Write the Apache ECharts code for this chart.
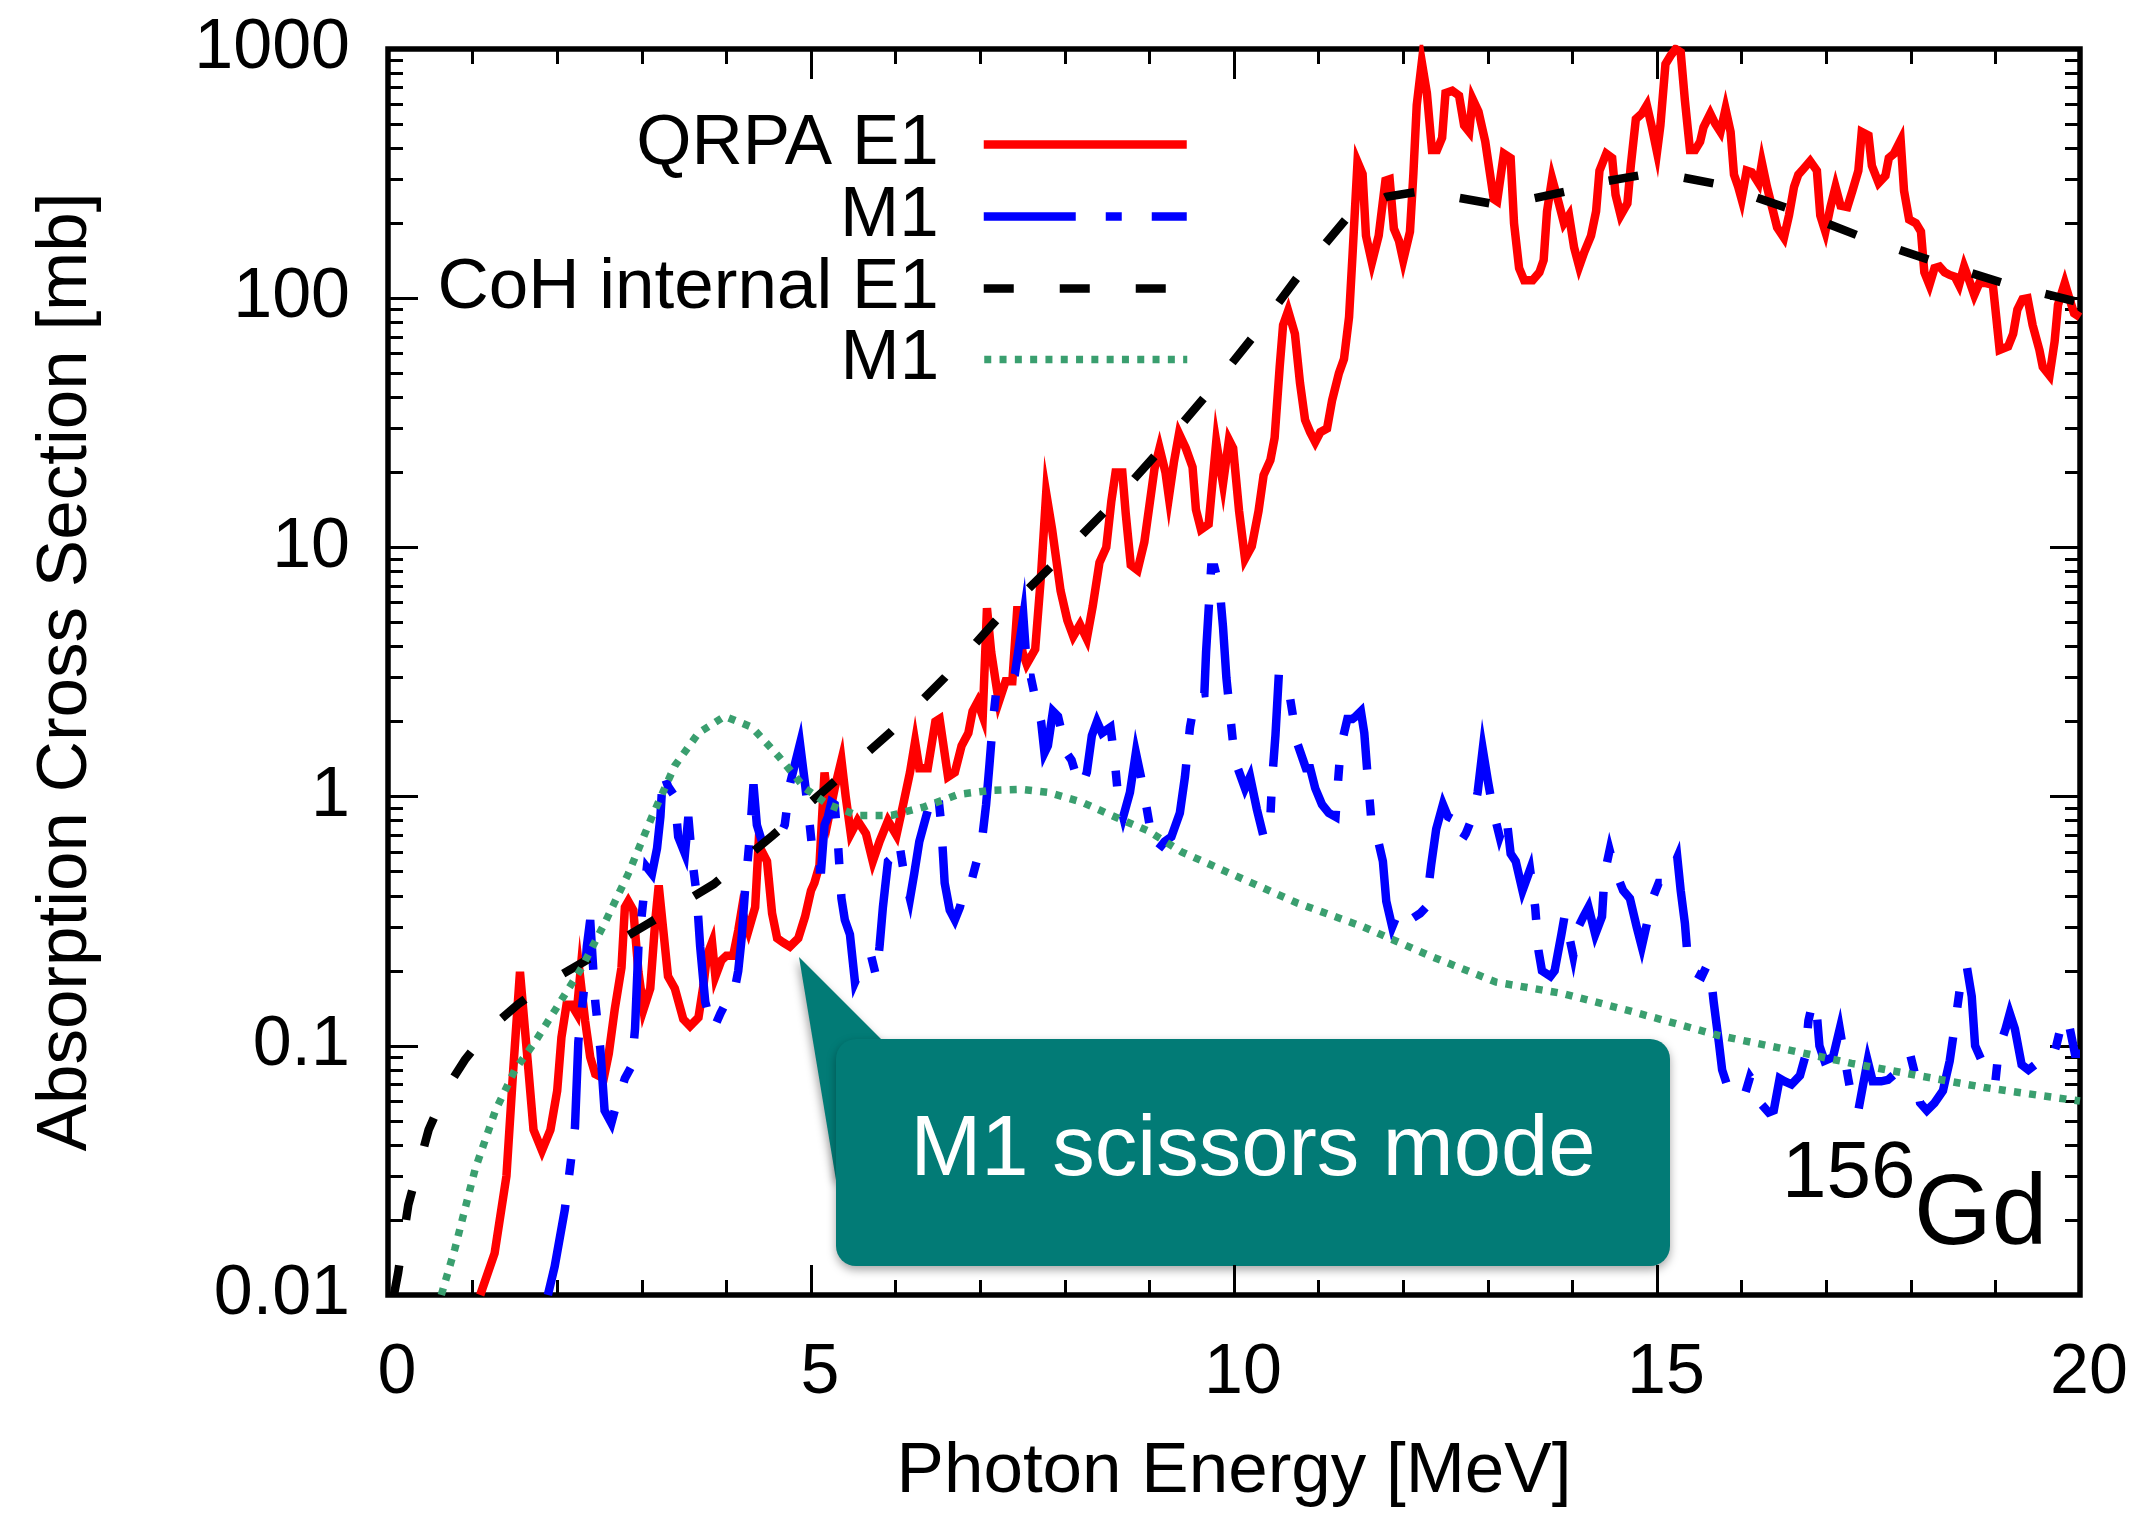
<!DOCTYPE html>
<html>
<head>
<meta charset="utf-8">
<script src="https://cdn.jsdelivr.net/npm/echarts@6.0.0/dist/echarts.min.js"></script>
<style>
html,body{margin:0;padding:0;background:#ffffff;}
#chart{width:2137px;height:1513px;}
</style>
</head>
<body>
<div id="chart"></div>
<script>
// ---------------- data (photon energy [MeV], cross section [mb]) ----------------
const qrpaE1 = [
[1.09,0.01],[1.26,0.0147],[1.40,0.03],[1.48,0.08],[1.56,0.198],[1.66,0.08],[1.72,0.046],[1.82,0.038],[1.92,0.046],[2.0,0.066],
[2.05,0.108],[2.11,0.146],[2.17,0.146],[2.23,0.135],[2.27,0.19],[2.33,0.126],[2.39,0.09],[2.45,0.077],[2.55,0.074],[2.61,0.093],
[2.68,0.14],[2.76,0.206],[2.80,0.36],[2.84,0.38],[2.90,0.35],[2.96,0.198],[3.02,0.14],[3.10,0.17],[3.16,0.32],[3.20,0.44],
[3.25,0.30],[3.31,0.19],[3.39,0.17],[3.49,0.128],[3.57,0.12],[3.67,0.13],[3.73,0.176],[3.77,0.23],[3.83,0.26],[3.87,0.19],
[3.94,0.22],[4.0,0.23],[4.08,0.23],[4.14,0.29],[4.18,0.35],[4.26,0.29],[4.34,0.36],[4.38,0.64],[4.48,0.55],[4.54,0.34],
[4.60,0.27],[4.67,0.26],[4.75,0.25],[4.85,0.27],[4.93,0.33],[5.0,0.42],[5.04,0.45],[5.10,0.53],[5.16,1.25],[5.22,0.86],
[5.28,1.08],[5.36,1.4],[5.41,1.0],[5.47,0.71],[5.55,0.8],[5.65,0.71],[5.73,0.55],[5.81,0.66],[5.91,0.8],[6.01,0.7],
[6.09,0.93],[6.17,1.25],[6.23,1.66],[6.28,1.3],[6.38,1.3],[6.47,2.0],[6.52,2.05],[6.62,1.2],[6.70,1.25],[6.78,1.6],
[6.86,1.8],[6.91,2.2],[6.97,2.4],[7.03,2.1],[7.08,5.7],[7.13,3.8],[7.22,2.4],[7.30,2.9],[7.38,2.9],[7.44,5.8],
[7.50,3.8],[7.55,3.4],[7.65,3.9],[7.72,7.8],[7.78,16.5],[7.85,11.8],[7.95,6.7],[8.03,5.1],[8.10,4.4],[8.18,4.9],
[8.26,4.3],[8.33,5.8],[8.41,8.7],[8.49,10],[8.55,15.3],[8.60,20],[8.68,20],[8.72,13.7],[8.78,8.5],[8.86,8.1],
[8.94,10.5],[9.0,14.7],[9.06,20.7],[9.12,25],[9.19,20],[9.23,15.9],[9.29,22],[9.35,28.6],[9.43,25],[9.51,21],
[9.55,14.2],[9.61,11.8],[9.70,12.4],[9.79,26.5],[9.87,18],[9.94,27],[9.99,25],[10.06,14],[10.13,9.0],[10.21,10.1],
[10.29,14],[10.35,19.5],[10.43,22.4],[10.48,27.5],[10.54,53],[10.58,78],[10.64,89],[10.72,72],[10.78,45.7],[10.84,32.5],
[10.90,29],[10.96,26.5],[11.02,29],[11.10,30],[11.16,39],[11.24,50],[11.30,57],[11.36,84],[11.40,147],[11.46,352],
[11.52,315],[11.56,178],[11.63,139],[11.71,178],[11.79,296],[11.84,300],[11.89,190],[11.95,170],[12.0,142],[12.08,185],
[12.12,314],[12.16,596],[12.22,885],[12.28,665],[12.34,393],[12.40,393],[12.46,440],[12.50,665],[12.58,680],[12.66,650],
[12.72,493],[12.78,465],[12.82,630],[12.89,560],[12.97,425],[13.07,250],[13.11,245],[13.19,380],[13.27,365],[13.31,200],
[13.37,132],[13.43,118],[13.53,118],[13.61,127],[13.66,142],[13.70,223],[13.76,302],[13.84,240],[13.90,200],[13.96,215],
[14.02,160],[14.08,134],[14.14,153],[14.22,178],[14.28,223],[14.32,325],[14.40,380],[14.47,365],[14.51,260],[14.57,215],
[14.65,240],[14.69,340],[14.75,523],[14.82,550],[14.88,595],[14.94,485],[15.0,386],[15.04,493],[15.10,870],[15.16,940],
[15.22,1000],[15.28,970],[15.33,620],[15.39,393],[15.45,393],[15.51,425],[15.55,485],[15.63,550],[15.69,500],[15.75,465],
[15.81,575],[15.87,465],[15.91,313],[15.96,280],[16.0,250],[16.06,325],[16.12,320],[16.20,290],[16.24,350],[16.30,280],
[16.36,232],[16.42,192],[16.50,175],[16.56,215],[16.62,280],[16.67,313],[16.73,330],[16.81,355],[16.89,325],[16.93,215],
[16.99,185],[17.05,232],[17.11,280],[17.17,235],[17.25,232],[17.31,270],[17.38,325],[17.42,465],[17.50,450],[17.54,340],
[17.62,290],[17.70,310],[17.74,365],[17.80,380],[17.88,430],[17.92,270],[17.98,207],[18.06,200],[18.12,185],[18.16,127],
[18.22,113],[18.28,132],[18.34,134],[18.40,127],[18.46,124],[18.52,122],[18.57,113],[18.63,134],[18.69,118],[18.75,103],
[18.81,115],[18.89,115],[18.97,113],[19.01,84],[19.05,62],[19.15,64],[19.21,72],[19.26,90],[19.32,99],[19.38,100],
[19.44,78],[19.52,62],[19.56,53],[19.64,49],[19.70,67],[19.74,94],[19.82,115],[19.87,101],[19.93,87],[20.0,84]
];

const qrpaM1 = [
[1.89,0.01],[1.97,0.013],[2.09,0.022],[2.15,0.032],[2.21,0.047],[2.25,0.104],[2.31,0.16],[2.35,0.25],[2.39,0.32],[2.45,0.15],
[2.51,0.097],[2.56,0.055],[2.64,0.049],[2.68,0.055],[2.80,0.074],[2.88,0.083],[2.92,0.117],[2.96,0.25],[3.02,0.39],[3.06,0.52],
[3.12,0.49],[3.18,0.62],[3.22,0.83],[3.25,1.25],[3.31,1.1],[3.39,1.0],[3.43,0.69],[3.51,0.59],[3.55,0.83],[3.59,0.58],
[3.65,0.40],[3.69,0.25],[3.75,0.15],[3.81,0.126],[3.85,0.117],[3.93,0.135],[4.0,0.15],[4.08,0.156],[4.14,0.2],[4.18,0.27],
[4.22,0.42],[4.28,0.71],[4.32,1.12],[4.36,0.77],[4.42,0.66],[4.50,0.66],[4.58,0.64],[4.69,0.77],[4.75,1.12],[4.81,1.35],
[4.87,1.63],[4.93,1.12],[4.98,0.8],[5.04,0.51],[5.12,0.51],[5.16,0.77],[5.20,0.83],[5.24,0.95],[5.28,0.93],[5.32,0.64],
[5.36,0.39],[5.40,0.32],[5.46,0.28],[5.52,0.18],[5.58,0.2],[5.65,0.22],[5.71,0.23],[5.77,0.19],[5.81,0.25],[5.85,0.36],
[5.91,0.55],[5.96,0.57],[6.04,0.66],[6.10,0.49],[6.17,0.39],[6.22,0.49],[6.28,0.66],[6.32,0.74],[6.40,0.93],[6.50,1.04],
[6.54,0.77],[6.58,0.45],[6.64,0.35],[6.70,0.32],[6.76,0.36],[6.81,0.42],[6.89,0.45],[6.97,0.57],[7.03,0.71],[7.07,0.93],
[7.11,1.35],[7.15,2.0],[7.19,2.66],[7.25,2.8],[7.33,2.87],[7.41,3.1],[7.51,5.3],[7.56,3.0],[7.60,3.0],[7.66,2.4],
[7.72,2.0],[7.76,1.5],[7.80,1.6],[7.86,2.2],[7.92,2.1],[8.02,1.5],[8.08,1.4],[8.14,1.2],[8.20,1.1],[8.26,1.25],
[8.32,1.76],[8.38,2.0],[8.44,1.8],[8.54,1.9],[8.59,1.4],[8.63,1.0],[8.69,0.83],[8.77,1.04],[8.84,1.5],[8.90,1.2],
[8.96,0.93],[9.02,0.71],[9.10,0.61],[9.18,0.66],[9.26,0.69],[9.36,0.86],[9.42,1.2],[9.48,1.9],[9.55,2.57],[9.65,2.6],
[9.67,3.8],[9.73,8.3],[9.77,8.3],[9.83,6.9],[9.87,4.8],[9.91,3.0],[9.95,2.2],[10.01,1.4],[10.13,1.08],[10.19,1.2],
[10.27,0.89],[10.35,0.69],[10.39,0.69],[10.43,0.83],[10.45,1.16],[10.49,1.76],[10.53,3.1],[10.63,2.9],[10.67,2.4],[10.75,1.63],
[10.85,1.3],[10.90,1.3],[10.96,1.08],[11.04,0.93],[11.12,0.86],[11.20,0.83],[11.22,1.04],[11.26,1.57],[11.34,2.05],[11.40,2.05],
[11.44,2.1],[11.50,2.2],[11.54,1.8],[11.58,1.2],[11.62,0.83],[11.66,0.77],[11.76,0.55],[11.80,0.38],[11.87,0.30],[11.95,0.35],
[12.0,0.35],[12.08,0.32],[12.20,0.34],[12.27,0.36],[12.33,0.53],[12.39,0.74],[12.47,0.93],[12.53,0.83],[12.62,0.8],[12.68,0.66],
[12.74,0.71],[12.82,0.83],[12.88,1.04],[12.94,1.55],[13.0,1.16],[13.06,0.89],[13.14,0.69],[13.22,0.83],[13.27,0.59],[13.33,0.55],
[13.41,0.42],[13.50,0.51],[13.56,0.36],[13.60,0.24],[13.64,0.2],[13.74,0.19],[13.79,0.2],[13.87,0.28],[13.91,0.335],[14.01,0.23],
[14.07,0.30],[14.13,0.33],[14.19,0.36],[14.27,0.28],[14.35,0.33],[14.38,0.49],[14.44,0.61],[14.50,0.51],[14.60,0.42],[14.68,0.39],
[14.76,0.30],[14.82,0.25],[14.90,0.33],[14.96,0.4],[15.02,0.45],[15.10,0.45],[15.18,0.51],[15.24,0.57],[15.28,0.42],[15.33,0.31],
[15.37,0.21],[15.41,0.2],[15.53,0.19],[15.59,0.21],[15.63,0.2],[15.67,0.15],[15.73,0.104],[15.77,0.08],[15.85,0.066],[15.96,0.062],
[16.04,0.064],[16.10,0.075],[16.16,0.07],[16.24,0.058],[16.32,0.054],[16.38,0.055],[16.45,0.074],[16.51,0.072],[16.59,0.07],[16.69,0.076],
[16.75,0.09],[16.79,0.126],[16.84,0.15],[16.88,0.146],[16.92,0.1],[16.98,0.087],[17.08,0.09],[17.16,0.117],[17.20,0.097],[17.26,0.074],
[17.32,0.057],[17.38,0.055],[17.43,0.068],[17.49,0.087],[17.55,0.072],[17.65,0.072],[17.73,0.073],[17.81,0.077],[17.99,0.093],[18.05,0.077],
[18.11,0.059],[18.19,0.055],[18.28,0.059],[18.38,0.066],[18.46,0.087],[18.50,0.108],[18.54,0.135],[18.60,0.19],[18.66,0.21],[18.72,0.158],
[18.76,0.1],[18.84,0.087],[18.92,0.074],[19.0,0.072],[19.04,0.097],[19.12,0.117],[19.17,0.135],[19.23,0.117],[19.31,0.084],[19.39,0.08],
[19.47,0.084],[19.59,0.087],[19.66,0.087],[19.72,0.1],[19.80,0.13],[19.88,0.117],[19.94,0.093],[20.0,0.093]
];

const cohE1 = [
[0.07,0.01],[0.12,0.0123],[0.24,0.023],[0.48,0.046],[0.70,0.068],[0.91,0.088],[1.20,0.117],[1.54,0.147],[1.92,0.182],[2.31,0.217],
[3.08,0.31],[3.85,0.445],[4.55,0.7],[5.24,1.12],[5.93,1.8],[6.58,3.0],[7.19,5.1],[7.84,8.4],[8.47,13.9],[9.08,23.6],
[9.65,40],[10.24,71],[10.77,124],[11.36,215],[11.8,255],[12.19,268],[12.6,255],[13.09,238],[13.5,250],[13.97,270],
[14.4,295],[14.84,313],[15.2,310],[15.73,286],[16.59,227],[17.44,175],[18.31,139],[19.17,113],[20.0,96]
];

const cohM1 = [
[0.63,0.01],[0.79,0.0153],[1.03,0.032],[1.27,0.055],[1.50,0.08],[1.74,0.104],[1.98,0.14],[2.29,0.206],[2.56,0.31],[2.84,0.49],
[3.12,0.83],[3.39,1.33],[3.67,1.8],[3.98,2.1],[4.30,1.9],[4.61,1.46],[4.93,1.08],[5.20,0.93],[5.55,0.84],[5.95,0.84],
[6.34,0.91],[6.74,1.02],[7.13,1.06],[7.48,1.07],[7.80,1.04],[8.20,0.95],[8.59,0.83],[8.98,0.73],[9.38,0.6],[9.85,0.51],
[10.74,0.375],[11.53,0.3],[12.31,0.23],[13.10,0.18],[13.89,0.162],[14.68,0.138],[15.73,0.11],[16.51,0.097],[17.30,0.085],[18.08,0.076],
[18.87,0.068],[20.0,0.06]
];

const seriesNames = ['QRPA E1', 'QRPA M1', 'CoH internal E1', 'CoH M1'];
const legendLabels = ['QRPA E1', 'M1', 'CoH internal E1', 'M1'];
const yMinorTicks = [0.02,0.03,0.04,0.05,0.06,0.07,0.08,0.09,0.2,0.3,0.4,0.5,0.6,0.7,0.8,0.9,
  2,3,4,5,6,7,8,9,20,30,40,50,60,70,80,90,200,300,400,500,600,700,800,900];
const xTitle = 'Photon Energy [MeV]';
const yTitle = 'Absorption Cross Section [mb]';
const noteText = 'M1 scissors mode';

// ---------------- chart ----------------
const FONT = '"Liberation Sans", Arial, Helvetica, sans-serif';
const chart = echarts.init(document.getElementById('chart'), null, {renderer: 'canvas'});

const G = {left: 388, top: 49, width: 1692, height: 1246};
const tickStyle = {color: '#000', width: 3};

function fmtY(v) { return String(Number(v.toPrecision(3))); }

function yAx(position, minor, withLabel) {
  return {
    type: 'log', logBase: 10, min: 0.01, max: 1000, position: position,
    axisLine: {show: false},
    splitLine: {show: false},
    axisTick: minor
      ? {show: true, inside: true, length: 15, lineStyle: tickStyle, customValues: yMinorTicks}
      : {show: true, inside: true, length: 30, lineStyle: tickStyle},
    axisLabel: withLabel
      ? {show: true, fontSize: 70, color: '#000', fontFamily: FONT, margin: 38, formatter: fmtY}
      : {show: false},
    name: withLabel ? yTitle : '',
    nameLocation: 'middle', nameGap: 286,
    nameTextStyle: {fontSize: 71, color: '#000', fontFamily: FONT}
  };
}

function xAx(position, withLabel) {
  return {
    type: 'value', min: 0, max: 20, interval: 5, position: position,
    axisLine: {show: false},
    splitLine: {show: false},
    axisTick: {show: true, inside: true, length: 30, lineStyle: tickStyle},
    minorTick: {show: true, splitNumber: 5, length: 15, lineStyle: tickStyle},
    axisLabel: withLabel
      ? {show: true, fontSize: 70, color: '#000', fontFamily: FONT, margin: 44, padding: [0, 0, 0, 18]}
      : {show: false},
    name: withLabel ? xTitle : '',
    nameLocation: 'middle', nameGap: 142,
    nameTextStyle: {fontSize: 71, color: '#000', fontFamily: FONT}
  };
}

const lineStyles = [
  {color: '#ff0000', width: 8.5, type: 'solid', join: 'miter', cap: 'butt'},
  {color: '#0000ff', width: 8.5, type: [92, 30, 16, 30], join: 'miter', cap: 'butt'},
  {color: '#000000', width: 8.5, type: [30, 46], join: 'miter', cap: 'butt'},
  {color: '#3a9f6f', width: 7.5, type: [7, 8.3], join: 'miter', cap: 'butt'}
];
const seriesData = [qrpaE1, qrpaM1, cohE1, cohM1];
const legendRowCenters = [145, 217, 289, 360];

const option = {
  backgroundColor: '#ffffff',
  animation: false,
  grid: {left: G.left, top: G.top, width: G.width, height: G.height, show: true,
         borderColor: '#000', borderWidth: 5.5, backgroundColor: 'transparent', containLabel: false},
  xAxis: [xAx('bottom', true), xAx('top', false)],
  yAxis: [yAx('left', false, true), yAx('left', true, false), yAx('right', false, false), yAx('right', true, false)],
  legend: seriesNames.map((n, i) => ({
    data: [n],
    right: 2137 - 1191,
    top: legendRowCenters[i] - 36,
    orient: 'horizontal',
    align: 'right',
    itemWidth: 203,
    itemHeight: 14,
    padding: 0,
    selectedMode: false,
    itemStyle: {opacity: 0},
    lineStyle: {width: lineStyles[i].width, type: lineStyles[i].type, color: lineStyles[i].color, cap: 'butt'},
    formatter: () => legendLabels[i],
    textStyle: {fontSize: 71, color: '#000', fontFamily: FONT, padding: [0, 40, 0, 0]}
  })),
  series: seriesNames.map((n, i) => ({
    name: n, type: 'line', xAxisIndex: 0, yAxisIndex: 0,
    data: seriesData[i], symbol: 'none', showSymbol: false, smooth: false,
    clip: true, lineStyle: lineStyles[i], emphasis: {disabled: true}, silent: true
  })),
  graphic: [
    {
      type: 'group', z: 50,
      children: [
        {type: 'polygon', shape: {points: [[799, 957], [887, 1045], [905, 1180], [836, 1180]]},
         style: {fill: '#027b76', shadowBlur: 8, shadowOffsetX: -2, shadowOffsetY: 3, shadowColor: 'rgba(0,0,0,0.35)'}},
        {type: 'rect', shape: {x: 836, y: 1039, width: 834, height: 227, r: 20},
         style: {fill: '#027b76', shadowBlur: 10, shadowOffsetY: 4, shadowColor: 'rgba(0,0,0,0.35)'}},
        {type: 'text', x: 1253, y: 1152,
         style: {text: noteText, fill: '#ffffff', font: '85px ' + FONT, textAlign: 'center', textVerticalAlign: 'middle'}}
      ]
    },
    {type: 'text', z: 50, x: 1782, y: 1215,
     style: {text: '156', fill: '#000', font: '80px ' + FONT, textAlign: 'left', textVerticalAlign: 'bottom'}},
    {type: 'text', z: 50, x: 1914, y: 1266,
     style: {text: 'Gd', fill: '#000', font: '100px ' + FONT, textAlign: 'left', textVerticalAlign: 'bottom'}}
  ]
};
chart.setOption(option);
</script>
</body>
</html>
